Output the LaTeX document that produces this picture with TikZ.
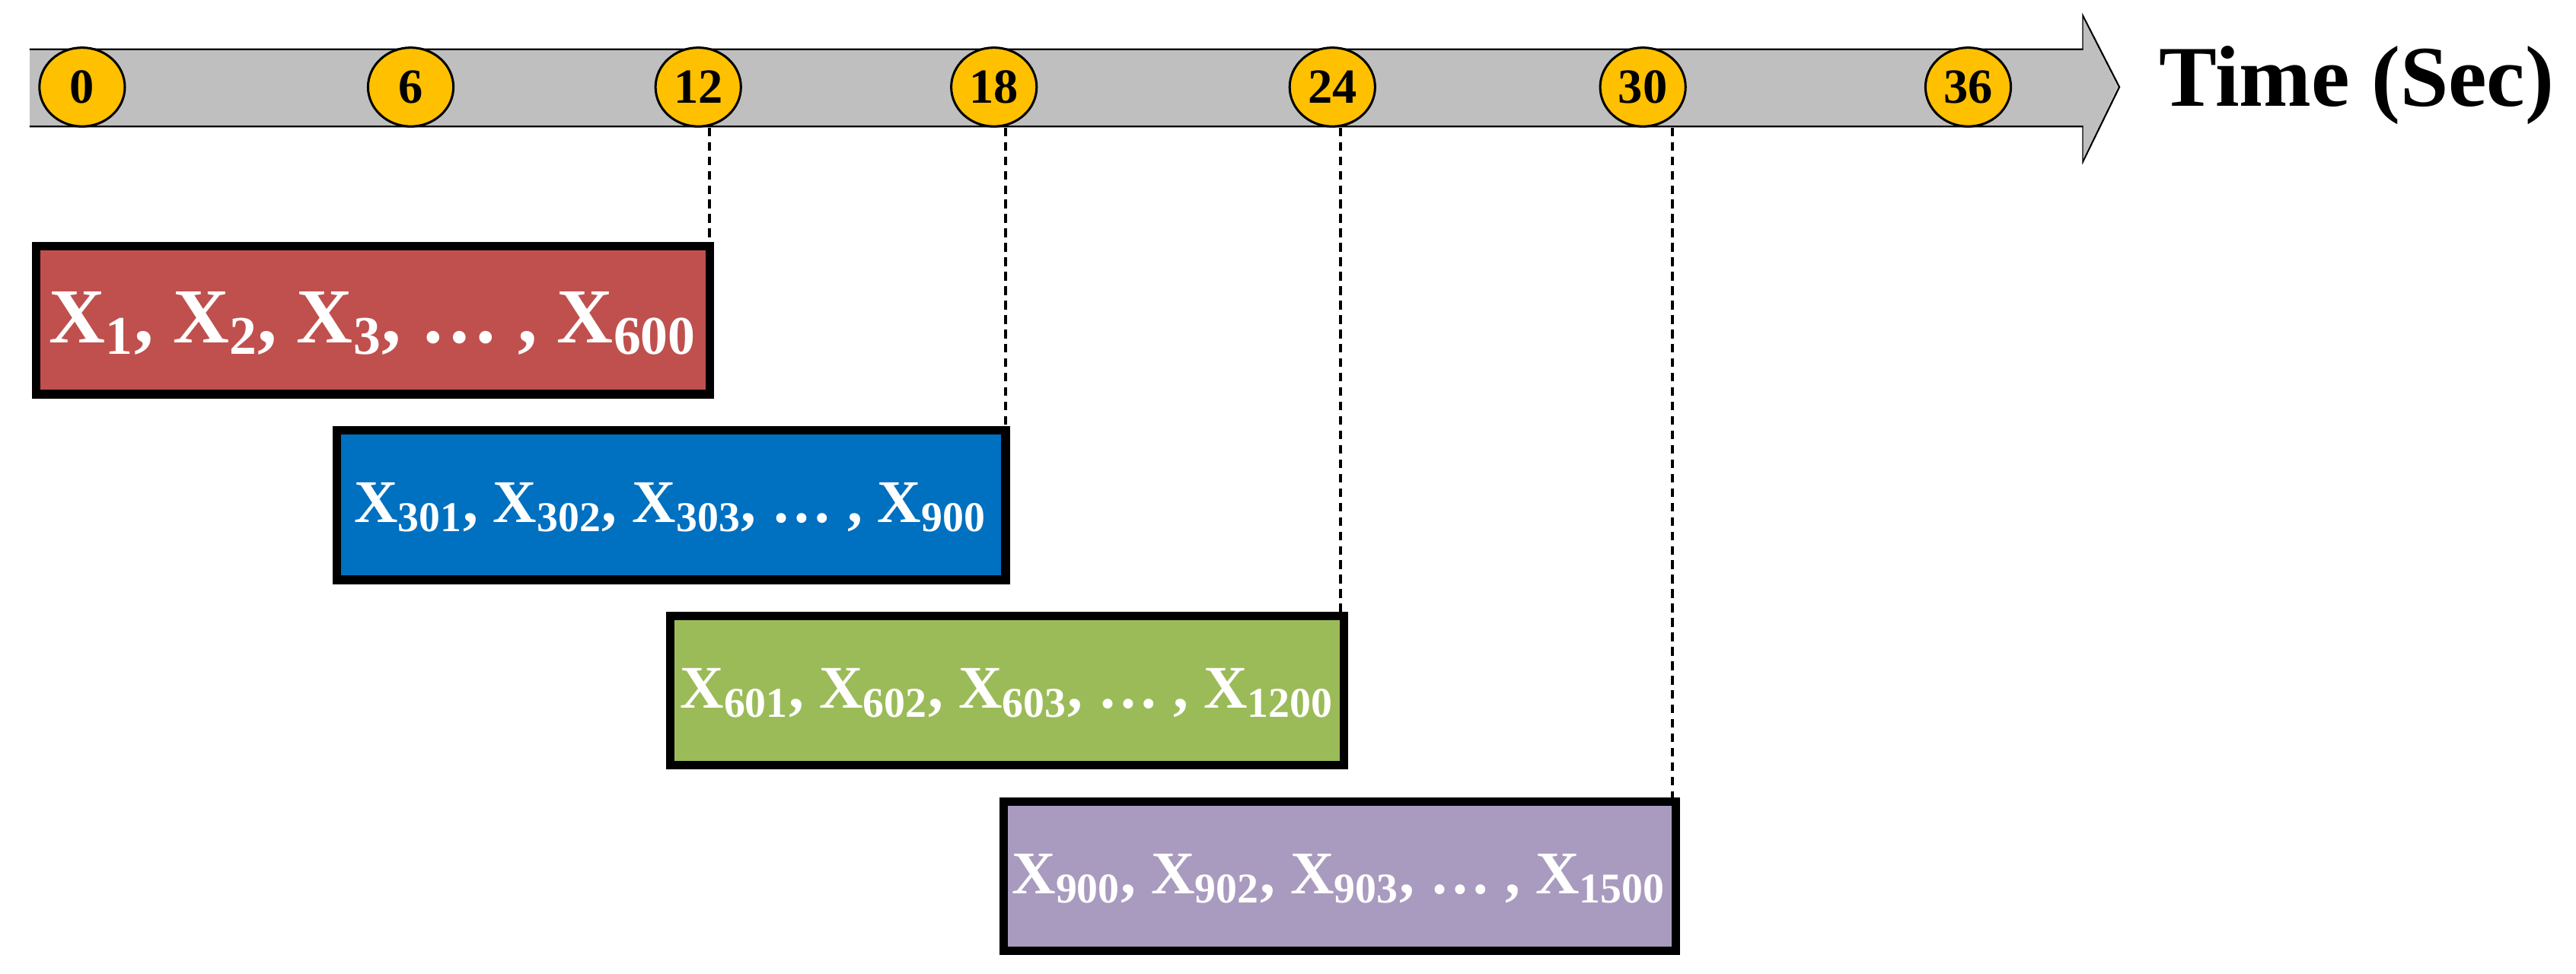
\documentclass[tikz,border=0pt]{standalone}
\usepackage{fontspec}
\setmainfont{Liberation Serif}
\usetikzlibrary{shapes.geometric}
\definecolor{band}{HTML}{BFBFBF}
\definecolor{tick}{HTML}{FFC000}
\definecolor{cred}{HTML}{C0504D}
\definecolor{cblue}{HTML}{0070C0}
\definecolor{cgreen}{HTML}{9BBB59}
\definecolor{cpurple}{HTML}{A99BBF}
\begin{document}
\begin{tikzpicture}[x=0.02cm,y=-0.02cm,
  tk/.style={ellipse,draw=black,line width=0.8pt,fill=tick,minimum width=27\pgflinewidth*0+1.04cm,minimum height=0.96cm,inner sep=0pt,font=\bfseries\fontsize{17}{17}\selectfont},
  win/.style={draw=black,line width=3pt,inner sep=0pt,text=white,font=\bfseries},
  guide/.style={densely dashed,line width=1pt}]
\useasboundingbox (0,0) rectangle (1568,593);
\fill[band] (18,30) rectangle (1268,77);
\draw[line width=0.6pt] (18,30) -- (1268,30) -- (1268,10) -- (1290,53) -- (1268,98) -- (1268,77) -- (18,77);
\fill[band] (1268,11) -- (1289,53) -- (1268,97) -- cycle;
\node[tk] (t0) at (50,53) {0};
\node[tk] (t6) at (250,53) {6};
\node[tk] (t12) at (425,53) {12};
\node[tk] (t18) at (605,53) {18};
\node[tk] (t24) at (811,53) {24};
\node[tk] (t30) at (1000,53) {30};
\node[tk] (t36) at (1198,53) {36};
\node[anchor=west,font=\bfseries\fontsize{30}{30}\selectfont] (lbl) at (1308,52) {Time (Sec)};
\draw[win,fill=cred] (22,150) rectangle (432,240);
\node[text=white,font=\bfseries\fontsize{27}{27}\selectfont] (b1) at (227,197) {X\textsubscript{1}, X\textsubscript{2}, X\textsubscript{3}, \dots\ , X\textsubscript{600}};
\draw[win,fill=cblue] (205,262) rectangle (612,353);
\node[text=white,font=\bfseries\fontsize{21}{21}\selectfont] (b2) at (408,309) {X\textsubscript{301}, X\textsubscript{302}, X\textsubscript{303}, \dots\ , X\textsubscript{900}};
\draw[win,fill=cgreen] (408,375) rectangle (818,466);
\node[text=white,font=\bfseries\fontsize{21}{21}\selectfont] (b3) at (613,422) {X\textsubscript{601}, X\textsubscript{602}, X\textsubscript{603}, \dots\ , X\textsubscript{1200}};
\draw[win,fill=cpurple] (611,488) rectangle (1020,579);
\node[text=white,font=\bfseries\fontsize{21}{21}\selectfont] (b4) at (815,535) {X\textsubscript{900}, X\textsubscript{902}, X\textsubscript{903}, \dots\ , X\textsubscript{1500}};
\coordinate (e1) at (432,148); \coordinate (e2) at (612,260);
\coordinate (e3) at (816,373); \coordinate (e4) at (1018,486);
\draw[guide] (t12.south -| e1) -- (e1);
\draw[guide] (t18.south -| e2) -- (e2);
\draw[guide] (t24.south -| e3) -- (e3);
\draw[guide] (t30.south -| e4) -- (e4);
\end{tikzpicture}
\end{document}
